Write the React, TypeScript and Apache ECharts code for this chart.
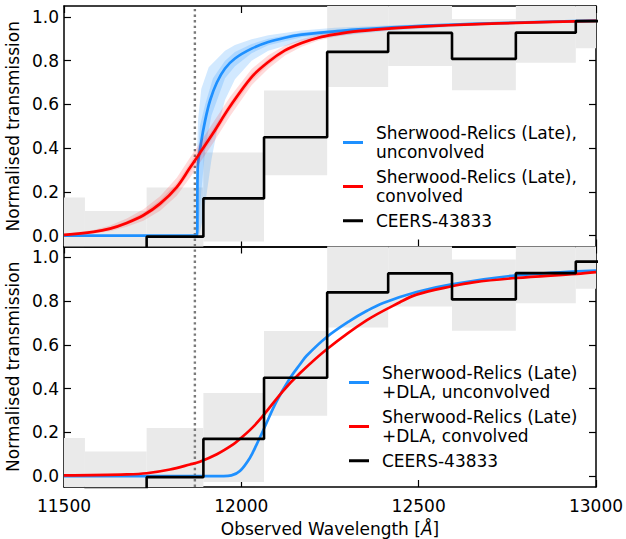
import { useEffect, useRef } from 'react';
import * as echarts from 'echarts';

// ---------- axis ranges & ticks ----------
const X_MIN = 11500;
const X_MAX = 13000;
const Y_MIN = -0.05;
const Y_MAX = 1.05;
const yTicks = [0, 0.2, 0.4, 0.6, 0.8, 1.0];
const lyaWavelength = 11869;

// ---------- observed spectrum (CEERS-43833) ----------
const binEdges = [11385, 11559, 11733, 11893, 12064, 12242, 12414, 12594, 12774, 12943, 13115];
const fluxValues = [-0.07, -0.06, -0.005, 0.17, 0.45, 0.84, 0.927, 0.808, 0.928, 0.981];
const fluxLow = [-0.3, -0.25, -0.23, -0.027, 0.276, 0.68, 0.776, 0.665, 0.79, 0.857];
const fluxHigh = [0.174, 0.112, 0.22, 0.38, 0.664, 1.06, 1.08, 0.99, 1.07, 1.1];

// ---------- top panel models ----------
const topBlue: number[][] = [
  [11500, 0.0], [11700, 0.0], [11860, 0.0], [11875, 0.0], [11877, 0.31], [11886, 0.42],
  [11898, 0.527], [11912, 0.619], [11931, 0.7], [11954, 0.764], [11982, 0.81], [12029, 0.855],
  [12076, 0.885], [12123, 0.905], [12170, 0.919], [12217, 0.927], [12264, 0.934], [12330, 0.943],
  [12424, 0.952], [12518, 0.96], [12650, 0.968], [12800, 0.975], [13000, 0.983],
];
const topBlueOuterUp: number[][] = [
  [11500, 0.0], [11872, 0.0], [11874, 0.32], [11878, 0.53], [11887, 0.67], [11908, 0.77], [11954, 0.845],
  [11982, 0.872], [12029, 0.898], [12076, 0.916], [12170, 0.938], [12264, 0.95], [12424, 0.962],
  [12518, 0.967], [12700, 0.975], [13000, 0.987],
];
const topBlueOuterLow: number[][] = [
  [11500, 0.0], [11881, 0.0], [11892, 0.08], [11903, 0.2], [11916, 0.35], [11934, 0.5], [11954, 0.62],
  [11982, 0.715], [12029, 0.8], [12076, 0.845], [12170, 0.89], [12264, 0.912], [12424, 0.938],
  [12518, 0.947], [12700, 0.964], [13000, 0.979],
];
const topBlueInnerUp: number[][] = [
  [11500, 0.0], [11874, 0.0], [11876, 0.32], [11883, 0.5], [11898, 0.6], [11920, 0.72], [11954, 0.8],
  [11982, 0.84], [12029, 0.876], [12076, 0.9], [12170, 0.929], [12264, 0.941], [12424, 0.956],
  [12518, 0.963], [12700, 0.972], [13000, 0.985],
];
const topBlueInnerLow: number[][] = [
  [11500, 0.0], [11878, 0.0], [11887, 0.2], [11899, 0.41], [11916, 0.55], [11954, 0.72], [11982, 0.775],
  [12029, 0.834], [12076, 0.87], [12170, 0.907], [12264, 0.924], [12424, 0.945], [12518, 0.954],
  [12700, 0.967], [13000, 0.981],
];

const topRed: number[][] = [
  [11500, 0.003], [11583, 0.017], [11630, 0.032], [11677, 0.058], [11724, 0.093], [11771, 0.146],
  [11818, 0.222], [11855, 0.31], [11883, 0.377], [11921, 0.47], [11968, 0.59], [12029, 0.725],
  [12076, 0.794], [12123, 0.847], [12170, 0.881], [12217, 0.905], [12264, 0.92], [12330, 0.935],
  [12424, 0.948], [12518, 0.957], [12650, 0.966], [12800, 0.974], [13000, 0.982],
];
const topRedOuterUp: number[][] = [
  [11500, 0.007], [11583, 0.026], [11630, 0.046], [11677, 0.078], [11724, 0.12], [11771, 0.18],
  [11818, 0.264], [11855, 0.356], [11883, 0.423], [11921, 0.518], [11968, 0.634], [12029, 0.762],
  [12076, 0.825], [12123, 0.869], [12170, 0.898], [12217, 0.918], [12264, 0.931], [12330, 0.944],
  [12424, 0.955], [12518, 0.962], [12650, 0.97], [12800, 0.977], [13000, 0.985],
];
const topRedOuterLow: number[][] = [
  [11500, 0.0], [11583, 0.009], [11630, 0.02], [11677, 0.04], [11724, 0.068], [11771, 0.114],
  [11818, 0.182], [11855, 0.264], [11883, 0.333], [11921, 0.424], [11968, 0.546], [12029, 0.688],
  [12076, 0.763], [12123, 0.824], [12170, 0.864], [12217, 0.892], [12264, 0.909], [12330, 0.926],
  [12424, 0.941], [12518, 0.952], [12650, 0.962], [12800, 0.971], [13000, 0.979],
];
const topRedInnerUp: number[][] = [
  [11500, 0.005], [11583, 0.021], [11630, 0.038], [11677, 0.067], [11724, 0.105], [11771, 0.162],
  [11818, 0.241], [11855, 0.331], [11883, 0.398], [11921, 0.491], [11968, 0.609], [12029, 0.742],
  [12076, 0.808], [12123, 0.857], [12170, 0.889], [12217, 0.911], [12264, 0.925], [12330, 0.94],
  [12424, 0.952], [12518, 0.96], [12650, 0.968], [12800, 0.976], [13000, 0.984],
];
const topRedInnerLow: number[][] = [
  [11500, 0.001], [11583, 0.013], [11630, 0.026], [11677, 0.05], [11724, 0.082], [11771, 0.131],
  [11818, 0.204], [11855, 0.289], [11883, 0.357], [11921, 0.45], [11968, 0.571], [12029, 0.708],
  [12076, 0.78], [12123, 0.837], [12170, 0.873], [12217, 0.899], [12264, 0.915], [12330, 0.93],
  [12424, 0.944], [12518, 0.954], [12650, 0.964], [12800, 0.972], [13000, 0.98],
];

// ---------- bottom panel models (+DLA) ----------
const botBlue: number[][] = [
  [11500, 0.0], [11800, 0.0], [11950, 0.0], [11972, 0.003], [11996, 0.023], [12024, 0.083],
  [12043, 0.144], [12062, 0.21], [12099, 0.34], [12137, 0.447], [12165, 0.51], [12184, 0.55],
  [12241, 0.636], [12306, 0.71], [12353, 0.755], [12400, 0.792], [12494, 0.842], [12593, 0.877],
  [12775, 0.918], [13000, 0.94],
];
const botRed: number[][] = [
  [11500, 0.003], [11677, 0.008], [11733, 0.013], [11799, 0.03], [11855, 0.053], [11883, 0.066],
  [11931, 0.1], [11977, 0.145], [11996, 0.17], [12024, 0.21], [12053, 0.26], [12118, 0.39],
  [12165, 0.47], [12241, 0.58], [12353, 0.712], [12447, 0.795], [12494, 0.83], [12593, 0.868],
  [12654, 0.886], [12775, 0.906], [12946, 0.925], [13000, 0.933],
];

// ---------- legend labels ----------
const topBlueName = 'Sherwood-Relics (Late),\nunconvolved';
const topRedName = 'Sherwood-Relics (Late),\nconvolved';
const botBlueName = 'Sherwood-Relics (Late)\n+DLA, unconvolved';
const botRedName = 'Sherwood-Relics (Late)\n+DLA, convolved';
const obsName = 'CEERS-43833';

const FONT = 'DejaVu Sans';
const BLUE = '#1e90ff';
const RED = '#ff0000';
const GREY_BOX = '#eaeaea';

const boxData = fluxValues.map((_, i) => [binEdges[i], binEdges[i + 1], fluxLow[i], fluxHigh[i]]);
const stepData = fluxValues
  .map((v, i) => [binEdges[i], v])
  .concat([[binEdges[binEdges.length - 1], fluxValues[fluxValues.length - 1]]]);

function boxesSeries(xi: number, yi: number) {
  return {
    type: 'custom',
    xAxisIndex: xi,
    yAxisIndex: yi,
    silent: true,
    z: 1,
    encode: { x: [0, 1], y: [2, 3] },
    data: boxData,
    renderItem: (params: any, api: any) => {
      const p1 = api.coord([api.value(0), api.value(3)]);
      const p2 = api.coord([api.value(1), api.value(2)]);
      const cs = params.coordSys;
      const rect = echarts.graphic.clipRectByRect(
        { x: p1[0], y: p1[1], width: p2[0] - p1[0], height: p2[1] - p1[1] },
        { x: cs.x, y: cs.y, width: cs.width, height: cs.height }
      );
      if (!rect) return null;
      return { type: 'rect', shape: rect, style: { fill: GREY_BOX, stroke: null } };
    },
  };
}

function bandSeries(upper: number[][], lower: number[][], color: string, xi: number, yi: number, z: number) {
  return {
    type: 'custom',
    xAxisIndex: xi,
    yAxisIndex: yi,
    silent: true,
    z,
    data: [upper[0]],
    renderItem: (_params: any, api: any) => {
      const pts = upper.map((p) => api.coord(p)).concat(lower.slice().reverse().map((p) => api.coord(p)));
      return { type: 'polygon', shape: { points: pts }, style: { fill: color, stroke: null } };
    },
  };
}

function curve(name: string, data: number[][], color: string, xi: number, yi: number, z: number) {
  return {
    type: 'line',
    name,
    xAxisIndex: xi,
    yAxisIndex: yi,
    data,
    smooth: 0.35,
    showSymbol: false,
    symbol: 'none',
    lineStyle: { color, width: 2.7 },
    itemStyle: { color },
    z,
  };
}

function stepSeries(xi: number, yi: number) {
  return {
    type: 'line',
    name: obsName,
    xAxisIndex: xi,
    yAxisIndex: yi,
    data: stepData,
    step: 'end',
    showSymbol: false,
    symbol: 'none',
    lineStyle: { color: '#000', width: 2.6 },
    itemStyle: { color: '#000' },
    z: 8,
  };
}

function lyaLine(xi: number, yi: number) {
  return {
    type: 'line',
    xAxisIndex: xi,
    yAxisIndex: yi,
    data: [[lyaWavelength, Y_MIN], [lyaWavelength, Y_MAX]],
    showSymbol: false,
    symbol: 'none',
    silent: true,
    lineStyle: { color: '#7a7a7a', width: 2.4, type: [2.4, 3.2] },
    z: 2,
  };
}

const axisLine = { show: true, onZero: false, lineStyle: { color: '#000', width: 1.5 } };
const tickStyle = { color: '#000', width: 1.2 };
const labelStyle = { fontFamily: FONT, fontSize: 17, color: '#000' };

function xAxis(gridIndex: number, position: string, showLabels: boolean, name?: string) {
  return {
    type: 'value',
    gridIndex,
    position,
    min: X_MIN,
    max: X_MAX,
    interval: 500,
    axisLine,
    axisTick: { show: true, inside: true, length: 7, lineStyle: tickStyle },
    axisLabel: { show: showLabels, margin: 10, formatter: (v: number) => String(v), ...labelStyle },
    splitLine: { show: false },
    name: name || '',
    nameLocation: 'middle',
    nameGap: 33,
    nameTextStyle: {
      ...labelStyle,
      rich: { i: { fontFamily: FONT, fontSize: 17, color: '#000', fontStyle: 'italic' } },
    },
  };
}

function yAxis(gridIndex: number, position: string, showLabels: boolean) {
  return {
    type: 'value',
    gridIndex,
    position,
    min: Y_MIN,
    max: Y_MAX,
    axisLine,
    axisTick: { show: true, inside: true, length: 7, lineStyle: tickStyle, customValues: yTicks },
    axisLabel: {
      show: showLabels,
      margin: 5,
      customValues: yTicks,
      formatter: (v: number) => v.toFixed(1),
      ...labelStyle,
    },
    splitLine: { show: false },
    name: showLabels ? 'Normalised transmission' : '',
    nameLocation: 'middle',
    nameGap: 39,
    nameTextStyle: labelStyle,
  };
}

function legend(names: string[], left: number, top: number) {
  return {
    orient: 'vertical',
    left,
    top,
    padding: 0,
    itemGap: 5,
    itemWidth: 20,
    itemHeight: 3,
    icon: 'rect',
    selectedMode: false,
    data: names,
    textStyle: { ...labelStyle, lineHeight: 19.5, padding: [0, 0, 0, 8] },
  };
}

export default function App() {
  const ref = useRef<HTMLDivElement>(null);
  useEffect(() => {
    if (!ref.current) return;
    const chart = echarts.init(ref.current, undefined, { renderer: 'svg' });
    chart.setOption({
      animation: false,
      backgroundColor: '#fff',
      grid: [
        { left: 64, top: 6, width: 532, height: 240.5, outerBoundsMode: 'none' },
        { left: 64, top: 246.5, width: 532, height: 240.5, outerBoundsMode: 'none' },
      ],
      xAxis: [
        xAxis(0, 'bottom', false),
        xAxis(0, 'top', false),
        xAxis(1, 'bottom', true, 'Observed Wavelength [{i|Å}]'),
        xAxis(1, 'top', false),
      ],
      yAxis: [yAxis(0, 'left', true), yAxis(0, 'right', false), yAxis(1, 'left', true), yAxis(1, 'right', false)],
      legend: [
        legend([topBlueName, topRedName, obsName], 343, 123),
        legend([botBlueName, botRedName, obsName], 349, 363),
      ],
      series: [
        // top panel
        boxesSeries(0, 0),
        lyaLine(0, 0),
        bandSeries(topBlueOuterUp, topBlueOuterLow, 'rgba(30,144,255,0.2)', 0, 0, 3),
        bandSeries(topBlueInnerUp, topBlueInnerLow, 'rgba(30,144,255,0.2)', 0, 0, 3),
        curve(topBlueName, topBlue, BLUE, 0, 0, 4),
        bandSeries(topRedOuterUp, topRedOuterLow, 'rgba(255,0,0,0.14)', 0, 0, 5),
        bandSeries(topRedInnerUp, topRedInnerLow, 'rgba(255,0,0,0.14)', 0, 0, 5),
        curve(topRedName, topRed, RED, 0, 0, 6),
        stepSeries(0, 0),
        // bottom panel
        boxesSeries(2, 2),
        lyaLine(2, 2),
        curve(botBlueName, botBlue, BLUE, 2, 2, 4),
        curve(botRedName, botRed, RED, 2, 2, 6),
        stepSeries(2, 2),
      ],
    });
    return () => chart.dispose();
  }, []);
  return <div ref={ref} style={{ position: 'fixed', left: 0, top: 0, width: 626, height: 539 }} />;
}
